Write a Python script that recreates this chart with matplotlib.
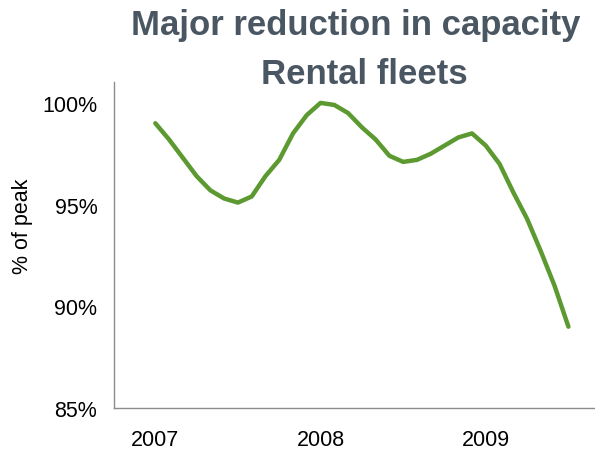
import matplotlib
matplotlib.use("Agg")
import matplotlib.pyplot as plt
import numpy as np

plt.rcParams['font.family'] = ['Liberation Sans', 'DejaVu Sans']

# monthly fleet size, % of peak, Jan 2007 .. Jul 2009
months = list(range(31))
fleet_pct = [99.0, 98.2, 97.3, 96.4, 95.7, 95.3, 95.1, 95.4, 96.4, 97.2,
             98.5, 99.4, 100.0, 99.9, 99.5, 98.8, 98.2, 97.4, 97.1, 97.2,
             97.5, 97.9, 98.3, 98.5, 97.9, 97.0, 95.6, 94.3, 92.7, 91.0,
             89.0]
year_pos = [0, 12, 24]
year_labels = ['2007', '2008', '2009']
pct_ticks = [85, 90, 95, 100]

title_color = '#4A5763'
line_color = '#5C9A31'

fig = plt.figure(figsize=(5.95, 4.52), dpi=100)
ax = fig.add_axes([0.1916, 0.095, 0.81, 0.7215])

ax.plot(months, fleet_pct, color=line_color, linewidth=3.2, solid_capstyle='round')

ax.set_xlim(-3, 32)
ax.set_ylim(85, 101.03)
ax.set_xticks(year_pos)
ax.set_xticklabels(year_labels)
ax.set_yticks(pct_ticks)
ax.set_yticklabels(['%d%%' % p for p in pct_ticks])
ax.tick_params(axis='both', length=0, labelsize=15.5, colors='black')
ax.tick_params(axis='y', pad=12)
ax.tick_params(axis='x', pad=15)

for side in ['top', 'right']:
    ax.spines[side].set_visible(False)
for side in ['left', 'bottom']:
    ax.spines[side].set_color('#8C8C8C')
    ax.spines[side].set_linewidth(1)

fig.text(0.038, 0.5, '% of peak', rotation=90, fontsize=15.5,
         ha='center', va='center')

fig.text(0.598, 0.943, 'Major reduction in capacity', fontsize=25,
         fontweight='bold', color=title_color, ha='center', va='center')
fig.text(0.613, 0.835, 'Rental fleets', fontsize=25,
         fontweight='bold', color=title_color, ha='center', va='center')

fig.savefig('out.png', dpi=100)
